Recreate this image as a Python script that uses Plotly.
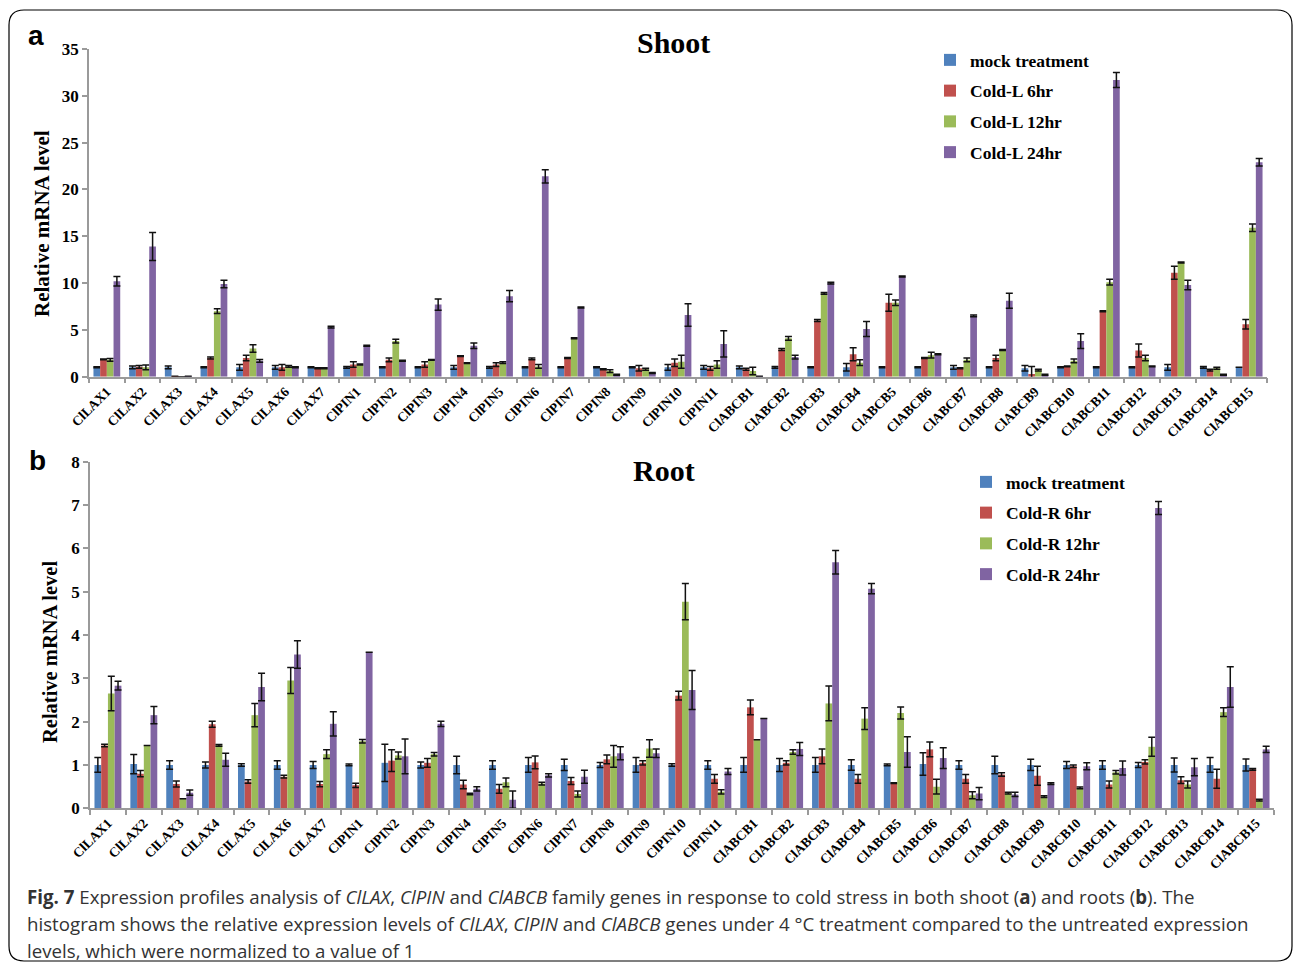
import plotly.graph_objects as go

genes = ["ClLAX1", "ClLAX2", "ClLAX3", "ClLAX4", "ClLAX5", "ClLAX6", "ClLAX7",
         "ClPIN1", "ClPIN2", "ClPIN3", "ClPIN4", "ClPIN5", "ClPIN6", "ClPIN7",
         "ClPIN8", "ClPIN9", "ClPIN10", "ClPIN11",
         "ClABCB1", "ClABCB2", "ClABCB3", "ClABCB4", "ClABCB5", "ClABCB6", "ClABCB7",
         "ClABCB8", "ClABCB9", "ClABCB10", "ClABCB11", "ClABCB12", "ClABCB13",
         "ClABCB14", "ClABCB15"]

# ---- Shoot (panel a) ----
shoot_mock = [1.0, 1.0, 1.0, 1.0, 1.0, 1.0, 1.0, 1.0, 1.0, 1.0, 1.0, 1.0, 1.0, 1.0, 1.0, 1.0, 1.0,
              1.0, 1.0, 1.0, 1.0, 1.0, 1.0, 1.0, 1.0, 1.0, 0.9, 1.0, 1.0, 1.0, 1.0, 1.0, 1.0]
shoot_mock_err = [0.05, 0.15, 0.15, 0.05, 0.3, 0.2, 0.05, 0.1, 0.05, 0.05, 0.2, 0.1, 0.05, 0.05, 0.05,
                  0.05, 0.3, 0.2, 0.15, 0.1, 0.05, 0.4, 0.05, 0.05, 0.2, 0.05, 0.3, 0.05, 0.05, 0.05,
                  0.3, 0.1, 0.0]
shoot_6 = [1.85, 1.05, 0.05, 2.0, 2.0, 1.0, 0.9, 1.3, 1.8, 1.3, 2.2, 1.3, 1.9, 2.0, 0.8, 0.9, 1.5,
           0.9, 0.8, 2.9, 6.0, 2.4, 7.9, 2.0, 0.9, 2.0, 0.3, 1.1, 7.0, 2.8, 11.1, 0.7, 5.6]
shoot_6_err = [0.05, 0.15, 0.0, 0.1, 0.3, 0.3, 0.05, 0.3, 0.2, 0.3, 0.05, 0.2, 0.1, 0.05, 0.05, 0.3,
               0.4, 0.2, 0.1, 0.1, 0.1, 0.7, 0.9, 0.05, 0.05, 0.3, 0.8, 0.05, 0.05, 0.7, 0.7, 0.1, 0.5]
shoot_12 = [1.8, 1.0, 0.0, 7.0, 3.0, 1.1, 0.9, 1.3, 3.8, 1.8, 1.45, 1.5, 1.1, 4.1, 0.6, 0.8, 1.6,
            1.3, 0.6, 4.1, 8.9, 1.5, 7.9, 2.3, 1.8, 2.85, 0.7, 1.7, 10.1, 2.0, 12.2, 0.9, 15.9]
shoot_12_err = [0.15, 0.25, 0.0, 0.25, 0.4, 0.1, 0.05, 0.05, 0.2, 0.05, 0.05, 0.1, 0.2, 0.05, 0.15,
                0.1, 0.7, 0.4, 0.4, 0.2, 0.1, 0.3, 0.3, 0.3, 0.2, 0.05, 0.1, 0.2, 0.3, 0.3, 0.05,
                0.1, 0.4]
shoot_24 = [10.2, 13.9, 0.05, 9.9, 1.7, 1.0, 5.3, 3.3, 1.7, 7.7, 3.3, 8.6, 21.4, 7.4, 0.2, 0.4, 6.6,
            3.5, 0.05, 2.1, 10.0, 5.1, 10.7, 2.4, 6.5, 8.1, 0.2, 3.8, 31.7, 1.1, 9.8, 0.2, 22.9]
shoot_24_err = [0.5, 1.5, 0.0, 0.4, 0.15, 0.05, 0.1, 0.05, 0.05, 0.6, 0.3, 0.6, 0.7, 0.05, 0.05,
                0.05, 1.2, 1.4, 0.0, 0.2, 0.1, 0.8, 0.05, 0.05, 0.1, 0.8, 0.05, 0.8, 0.8, 0.05,
                0.5, 0.05, 0.4]

# ---- Root (panel b) ----
root_mock = [1.0, 1.02, 1.0, 1.0, 1.0, 1.0, 1.0, 1.0, 1.05, 1.0, 1.0, 1.0, 1.0, 1.0, 1.0, 1.0, 1.0,
             1.0, 1.0, 1.0, 1.0, 1.0, 1.0, 1.02, 1.0, 1.0, 1.0, 1.0, 1.0, 1.0, 1.0, 1.0, 1.0]
root_mock_err = [0.17, 0.22, 0.1, 0.07, 0.03, 0.1, 0.08, 0.02, 0.43, 0.07, 0.2, 0.1, 0.17, 0.13,
                 0.06, 0.17, 0.03, 0.1, 0.17, 0.15, 0.17, 0.12, 0.02, 0.26, 0.1, 0.2, 0.13, 0.08,
                 0.1, 0.06, 0.16, 0.17, 0.14]
root_6 = [1.45, 0.8, 0.56, 1.94, 0.62, 0.73, 0.56, 0.53, 1.1, 1.05, 0.55, 0.45, 1.06, 0.63, 1.13,
          1.05, 2.6, 0.68, 2.33, 1.05, 1.2, 0.68, 0.58, 1.36, 0.68, 0.78, 0.75, 0.97, 0.55, 1.07,
          0.65, 0.68, 0.9]
root_6_err = [0.03, 0.07, 0.07, 0.07, 0.04, 0.03, 0.06, 0.05, 0.25, 0.1, 0.1, 0.1, 0.15, 0.08, 0.1,
              0.05, 0.1, 0.1, 0.17, 0.05, 0.17, 0.1, 0.01, 0.17, 0.1, 0.04, 0.22, 0.03, 0.08, 0.05,
              0.08, 0.22, 0.02]
root_12 = [2.65, 1.45, 0.22, 1.45, 2.15, 2.95, 1.25, 1.55, 1.22, 1.25, 0.33, 0.6, 0.57, 0.33, 1.2,
           1.38, 4.77, 0.38, 1.58, 1.3, 2.42, 2.07, 2.2, 0.5, 0.3, 0.35, 0.27, 0.47, 0.83, 1.42,
           0.55, 2.22, 0.19]
root_12_err = [0.4, 0.0, 0.0, 0.02, 0.27, 0.3, 0.1, 0.04, 0.08, 0.04, 0.02, 0.1, 0.03, 0.07, 0.25,
               0.2, 0.42, 0.05, 0.0, 0.05, 0.4, 0.25, 0.14, 0.17, 0.08, 0.02, 0.02, 0.02, 0.04,
               0.22, 0.08, 0.1, 0.02]
root_24 = [2.83, 2.15, 0.36, 1.12, 2.8, 3.55, 1.95, 3.6, 1.2, 1.95, 0.45, 0.2, 0.76, 0.73, 1.27,
           1.27, 2.73, 0.85, 2.07, 1.37, 5.68, 5.07, 1.3, 1.16, 0.34, 0.32, 0.57, 0.97, 0.93, 6.93,
           0.95, 2.8, 1.36]
root_24_err = [0.1, 0.2, 0.06, 0.15, 0.32, 0.32, 0.28, 0.0, 0.4, 0.06, 0.05, 0.2, 0.04, 0.15, 0.15,
               0.1, 0.45, 0.07, 0.0, 0.15, 0.27, 0.12, 0.35, 0.24, 0.14, 0.05, 0.02, 0.08, 0.16,
               0.15, 0.2, 0.47, 0.07]

colors = ["#4F81BD", "#C0504D", "#9BBB59", "#8064A2"]
shoot_names = ["mock treatment", "Cold-L 6hr", "Cold-L 12hr", "Cold-L 24hr"]
root_names = ["mock treatment", "Cold-R 6hr", "Cold-R 12hr", "Cold-R 24hr"]

W, H = 1295, 968
def px(x):
    return x / W
def py(y):
    return 1 - y / H

fig = go.Figure()

shoot_series = [(shoot_mock, shoot_mock_err), (shoot_6, shoot_6_err),
                (shoot_12, shoot_12_err), (shoot_24, shoot_24_err)]
root_series = [(root_mock, root_mock_err), (root_6, root_6_err),
               (root_12, root_12_err), (root_24, root_24_err)]

for i, (vals, errs) in enumerate(shoot_series):
    fig.add_trace(go.Bar(
        x=genes, y=vals, name="<b>" + shoot_names[i] + "</b>",
        marker=dict(color=colors[i], line=dict(width=0)),
        error_y=dict(type="data", array=errs, visible=True, color="#111111", thickness=1.5, width=3.5),
        xaxis="x", yaxis="y", legend="legend", legendgroup="s%d" % i))

for i, (vals, errs) in enumerate(root_series):
    fig.add_trace(go.Bar(
        x=genes, y=vals, name="<b>" + root_names[i] + "</b>",
        marker=dict(color=colors[i], line=dict(width=0)),
        error_y=dict(type="data", array=errs, visible=True, color="#111111", thickness=1.5, width=3.5),
        xaxis="x2", yaxis="y2", legend="legend2", legendgroup="r%d" % i))

serif = "Liberation Serif"
axis_common = dict(showgrid=False, zeroline=False, showline=True, linecolor="#9a9a9a", linewidth=1.5,
                   ticks="outside", tickcolor="#9a9a9a", ticklen=5, tickwidth=1.5, automargin=False)

fig.update_layout(
    width=W, height=H, margin=dict(l=0, r=0, t=0, b=0, autoexpand=False),
    paper_bgcolor="white", plot_bgcolor="white",
    barmode="group", bargap=0.25, bargroupgap=0.0,
    font=dict(family=serif, color="black"),
    xaxis=dict(domain=[px(89), px(1267)], anchor="y", type="category", tickson="boundaries",
               tickangle=-45, tickfont=dict(family=serif, size=13.5, color="black"),
               **axis_common),
    yaxis=dict(domain=[py(376.7), py(49)], anchor="x", range=[0, 35], dtick=5,
               tickfont=dict(family=serif, size=17, color="black"),
               **axis_common),
    xaxis2=dict(domain=[px(90), px(1274)], anchor="y2", type="category", tickson="boundaries",
                tickangle=-45, tickfont=dict(family=serif, size=13.5, color="black"),
                **axis_common),
    yaxis2=dict(domain=[py(808.3), py(461.7)], anchor="x2", range=[0, 8], dtick=1,
                tickfont=dict(family=serif, size=17, color="black"),
                **axis_common),
    legend=dict(x=px(930), y=py(42), xanchor="left", yanchor="top", bgcolor="rgba(0,0,0,0)",
                font=dict(family=serif, size=17.5, color="black"), tracegroupgap=5,
                itemwidth=30, itemclick=False),
    legend2=dict(x=px(966), y=py(464), xanchor="left", yanchor="top", bgcolor="rgba(0,0,0,0)",
                 font=dict(family=serif, size=17.5, color="black"), tracegroupgap=5,
                 itemwidth=30, itemclick=False),
    showlegend=True,
)

# bold tick labels
fig.update_xaxes(tickprefix="<b>", ticksuffix="</b>")
fig.update_yaxes(tickprefix="<b>", ticksuffix="</b>")

def note(text, x, y, size, family=serif, angle=0):
    return dict(text=text, x=px(x), y=py(y), xref="paper", yref="paper", xanchor="center",
                yanchor="middle", showarrow=False, textangle=angle,
                font=dict(family=family, size=size, color="black"))

ann = [
    note("<b>Shoot</b>", 673, 42, 30),
    note("<b>Root</b>", 664, 470, 30),
    note("<b>a</b>", 36, 35, 28, "Liberation Sans"),
    note("<b>b</b>", 37, 460, 28, "Liberation Sans"),
    note("<b>Relative mRNA level</b>", 42, 224, 21, angle=-90),
    note("<b>Relative mRNA level</b>", 50, 652, 20.5, angle=-90),
]

cap_font = dict(family="Open Sans", size=18.7, color="#333333")
cap_lines = [
    "<b>Fig. 7</b> Expression profiles analysis of <i>ClLAX</i>, <i>ClPIN</i> and <i>ClABCB</i> family genes in response to cold stress in both shoot (<b>a</b>) and roots (<b>b</b>). The",
    "histogram shows the relative expression levels of <i>ClLAX</i>, <i>ClPIN</i> and <i>ClABCB</i> genes under 4 \u00b0C treatment compared to the untreated expression",
    "levels, which were normalized to a value of 1",
]
for k, line in enumerate(cap_lines):
    ann.append(dict(text=line, x=px(25), y=py(896 + 27 * k), xref="paper", yref="paper",
                    xanchor="left", yanchor="middle", showarrow=False, font=cap_font))
fig.update_layout(annotations=ann)

# rounded border frame
x0, x1, y0, y1, r = px(9), px(1292), py(10), py(961), 15
rx, ry = r / W, r / H
path = (f"M {x0+rx},{y0} L {x1-rx},{y0} Q {x1},{y0} {x1},{y0-ry} "
        f"L {x1},{y1+ry} Q {x1},{y1} {x1-rx},{y1} "
        f"L {x0+rx},{y1} Q {x0},{y1} {x0},{y1+ry} "
        f"L {x0},{y0-ry} Q {x0},{y0} {x0+rx},{y0} Z")
fig.add_shape(type="path", path=path, xref="paper", yref="paper",
              line=dict(color="black", width=1.2), fillcolor="rgba(0,0,0,0)")

fig.write_html("out.html", config={"displayModeBar": False},
               post_script="document.body.style.margin='0';document.body.style.overflow='hidden';")
